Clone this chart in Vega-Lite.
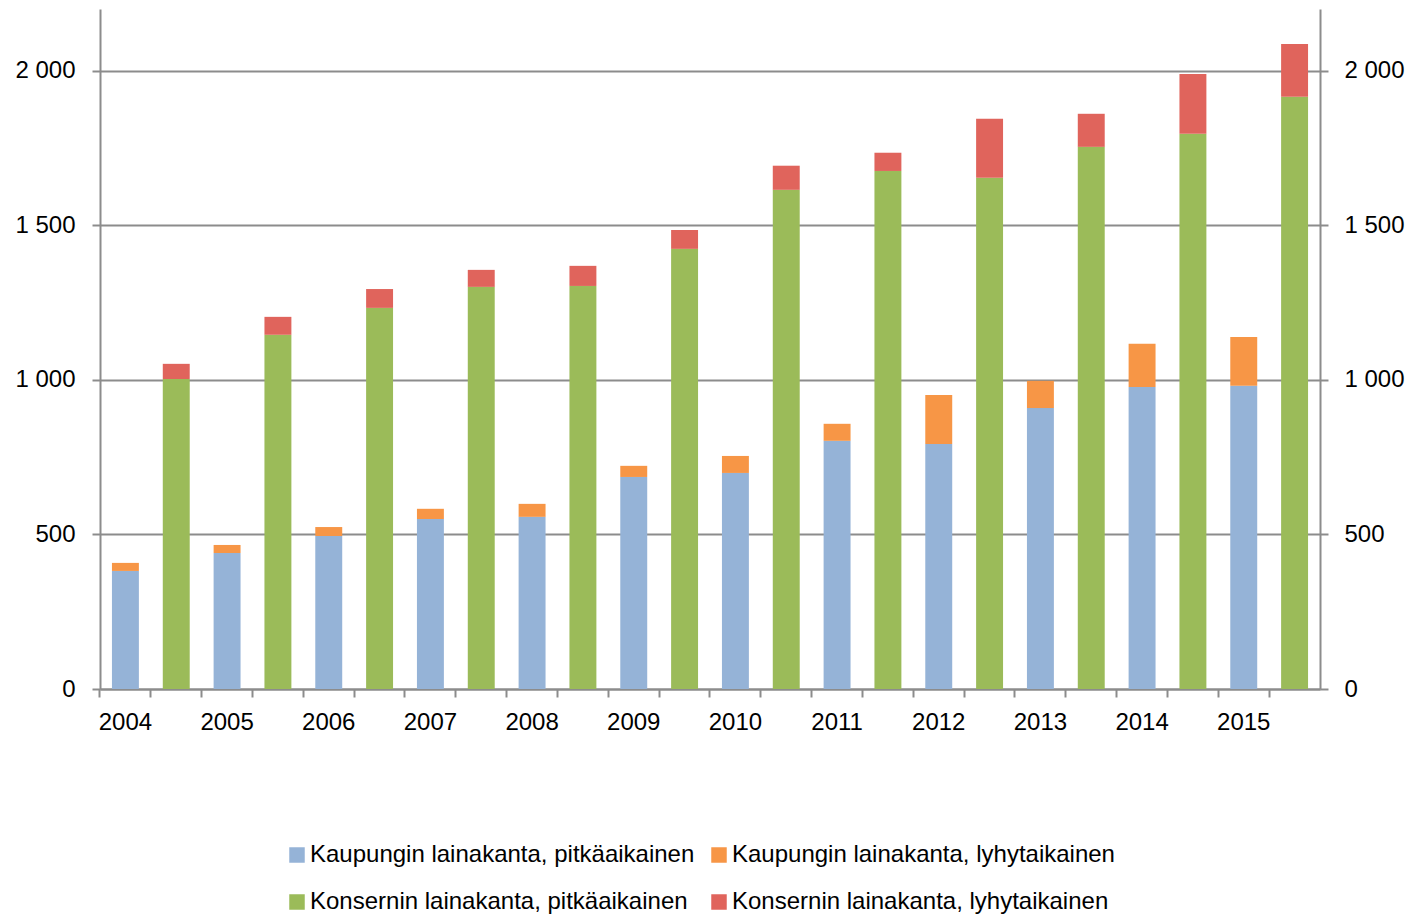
{
  "$schema": "https://vega.github.io/schema/vega-lite/v6.json",
  "autosize": {"type": "none"},
  "padding": {"left": 100, "top": 9, "right": 92, "bottom": 230},
  "width": 1220,
  "height": 680,
  "background": "white",
  "config": {
    "view": {"stroke": null},
    "font": "Liberation Sans",
    "axis": {"labelFont": "Liberation Sans", "labelFontSize": 24, "labelColor": "#000000", "domainColor": "#8c8c8c", "domainWidth": 2, "tickColor": "#8c8c8c", "tickWidth": 2, "tickSize": 8, "gridColor": "#8c8c8c", "gridWidth": 2, "title": null}
  },
  "data": {
    "values": [
      {"slot": "2004|1", "series": "Kaupungin lainakanta, pitkäaikainen", "ord": 1, "value": 382},
      {"slot": "2004|1", "series": "Kaupungin lainakanta, lyhytaikainen", "ord": 2, "value": 26},
      {"slot": "2004|2", "series": "Konsernin lainakanta, pitkäaikainen", "ord": 1, "value": 1003},
      {"slot": "2004|2", "series": "Konsernin lainakanta, lyhytaikainen", "ord": 2, "value": 49},
      {"slot": "2005|1", "series": "Kaupungin lainakanta, pitkäaikainen", "ord": 1, "value": 440},
      {"slot": "2005|1", "series": "Kaupungin lainakanta, lyhytaikainen", "ord": 2, "value": 26},
      {"slot": "2005|2", "series": "Konsernin lainakanta, pitkäaikainen", "ord": 1, "value": 1146},
      {"slot": "2005|2", "series": "Konsernin lainakanta, lyhytaikainen", "ord": 2, "value": 58},
      {"slot": "2006|1", "series": "Kaupungin lainakanta, pitkäaikainen", "ord": 1, "value": 495},
      {"slot": "2006|1", "series": "Kaupungin lainakanta, lyhytaikainen", "ord": 2, "value": 29},
      {"slot": "2006|2", "series": "Konsernin lainakanta, pitkäaikainen", "ord": 1, "value": 1233},
      {"slot": "2006|2", "series": "Konsernin lainakanta, lyhytaikainen", "ord": 2, "value": 61},
      {"slot": "2007|1", "series": "Kaupungin lainakanta, pitkäaikainen", "ord": 1, "value": 550},
      {"slot": "2007|1", "series": "Kaupungin lainakanta, lyhytaikainen", "ord": 2, "value": 33},
      {"slot": "2007|2", "series": "Konsernin lainakanta, pitkäaikainen", "ord": 1, "value": 1301},
      {"slot": "2007|2", "series": "Konsernin lainakanta, lyhytaikainen", "ord": 2, "value": 55},
      {"slot": "2008|1", "series": "Kaupungin lainakanta, pitkäaikainen", "ord": 1, "value": 557},
      {"slot": "2008|1", "series": "Kaupungin lainakanta, lyhytaikainen", "ord": 2, "value": 42},
      {"slot": "2008|2", "series": "Konsernin lainakanta, pitkäaikainen", "ord": 1, "value": 1304},
      {"slot": "2008|2", "series": "Konsernin lainakanta, lyhytaikainen", "ord": 2, "value": 65},
      {"slot": "2009|1", "series": "Kaupungin lainakanta, pitkäaikainen", "ord": 1, "value": 686},
      {"slot": "2009|1", "series": "Kaupungin lainakanta, lyhytaikainen", "ord": 2, "value": 36},
      {"slot": "2009|2", "series": "Konsernin lainakanta, pitkäaikainen", "ord": 1, "value": 1424},
      {"slot": "2009|2", "series": "Konsernin lainakanta, lyhytaikainen", "ord": 2, "value": 61},
      {"slot": "2010|1", "series": "Kaupungin lainakanta, pitkäaikainen", "ord": 1, "value": 699},
      {"slot": "2010|1", "series": "Kaupungin lainakanta, lyhytaikainen", "ord": 2, "value": 55},
      {"slot": "2010|2", "series": "Konsernin lainakanta, pitkäaikainen", "ord": 1, "value": 1615},
      {"slot": "2010|2", "series": "Konsernin lainakanta, lyhytaikainen", "ord": 2, "value": 78},
      {"slot": "2011|1", "series": "Kaupungin lainakanta, pitkäaikainen", "ord": 1, "value": 803},
      {"slot": "2011|1", "series": "Kaupungin lainakanta, lyhytaikainen", "ord": 2, "value": 55},
      {"slot": "2011|2", "series": "Konsernin lainakanta, pitkäaikainen", "ord": 1, "value": 1676},
      {"slot": "2011|2", "series": "Konsernin lainakanta, lyhytaikainen", "ord": 2, "value": 59},
      {"slot": "2012|1", "series": "Kaupungin lainakanta, pitkäaikainen", "ord": 1, "value": 793},
      {"slot": "2012|1", "series": "Kaupungin lainakanta, lyhytaikainen", "ord": 2, "value": 158},
      {"slot": "2012|2", "series": "Konsernin lainakanta, pitkäaikainen", "ord": 1, "value": 1654},
      {"slot": "2012|2", "series": "Konsernin lainakanta, lyhytaikainen", "ord": 2, "value": 191},
      {"slot": "2013|1", "series": "Kaupungin lainakanta, pitkäaikainen", "ord": 1, "value": 909},
      {"slot": "2013|1", "series": "Kaupungin lainakanta, lyhytaikainen", "ord": 2, "value": 88},
      {"slot": "2013|2", "series": "Konsernin lainakanta, pitkäaikainen", "ord": 1, "value": 1754},
      {"slot": "2013|2", "series": "Konsernin lainakanta, lyhytaikainen", "ord": 2, "value": 107},
      {"slot": "2014|1", "series": "Kaupungin lainakanta, pitkäaikainen", "ord": 1, "value": 977},
      {"slot": "2014|1", "series": "Kaupungin lainakanta, lyhytaikainen", "ord": 2, "value": 140},
      {"slot": "2014|2", "series": "Konsernin lainakanta, pitkäaikainen", "ord": 1, "value": 1796},
      {"slot": "2014|2", "series": "Konsernin lainakanta, lyhytaikainen", "ord": 2, "value": 194},
      {"slot": "2015|1", "series": "Kaupungin lainakanta, pitkäaikainen", "ord": 1, "value": 981},
      {"slot": "2015|1", "series": "Kaupungin lainakanta, lyhytaikainen", "ord": 2, "value": 158},
      {"slot": "2015|2", "series": "Konsernin lainakanta, pitkäaikainen", "ord": 1, "value": 1916},
      {"slot": "2015|2", "series": "Konsernin lainakanta, lyhytaikainen", "ord": 2, "value": 171}
    ]
  },
  "layer": [
    {
      "mark": {"type": "bar"},
      "encoding": {
        "x": {
          "field": "slot", "type": "ordinal",
          "scale": {"paddingInner": 0.47, "paddingOuter": 0.235},
          "axis": {"bandPosition": -0.4434, "labelDx": 25.4, "labelAngle": 0, "labelPadding": 13, "labelOverlap": false, "labelBound": false,
                   "labelExpr": "indexof(datum.value, '|1') > 0 ? slice(datum.value, 0, 4) : ''"}
        },
        "y": {
          "field": "value", "type": "quantitative", "stack": "zero",
          "scale": {"domain": [0, 2200], "nice": false, "zero": true},
          "axis": {"orient": "left", "values": [0, 500, 1000, 1500, 2000], "grid": true, "labelPadding": 17,
                   "labelExpr": "replace(format(datum.value, ','), ',', ' ')"}
        },
        "color": {
          "field": "series", "type": "nominal",
          "scale": {
            "domain": ["Kaupungin lainakanta, pitkäaikainen", "Kaupungin lainakanta, lyhytaikainen", "Konsernin lainakanta, pitkäaikainen", "Konsernin lainakanta, lyhytaikainen"],
            "range": ["#95B3D7", "#F79646", "#9BBB59", "#E0645C"]
          },
          "legend": {
            "orient": "none", "legendX": 185, "legendY": 834, "columns": 2, "direction": "horizontal", "title": null,
            "symbolType": "square", "symbolSize": 240, "symbolStrokeWidth": 0, "symbolOpacity": 1,
            "labelFont": "Liberation Sans", "labelFontSize": 24, "labelColor": "#000000", "labelOffset": 1, "labelLimit": 600,
            "columnPadding": 12, "rowPadding": 23, "padding": 0
          }
        },
        "order": {"field": "ord", "type": "quantitative"}
      }
    },
    {
      "mark": {"type": "bar", "opacity": 0},
      "encoding": {
        "x": {"field": "slot", "type": "ordinal"},
        "y": {
          "field": "value", "type": "quantitative", "stack": "zero",
          "axis": {"orient": "right", "values": [0, 500, 1000, 1500, 2000], "grid": false, "labelPadding": 16,
                   "labelExpr": "replace(format(datum.value, ','), ',', ' ')"}
        },
        "order": {"field": "ord", "type": "quantitative"}
      }
    }
  ],
  "resolve": {"axis": {"y": "independent"}}
}
